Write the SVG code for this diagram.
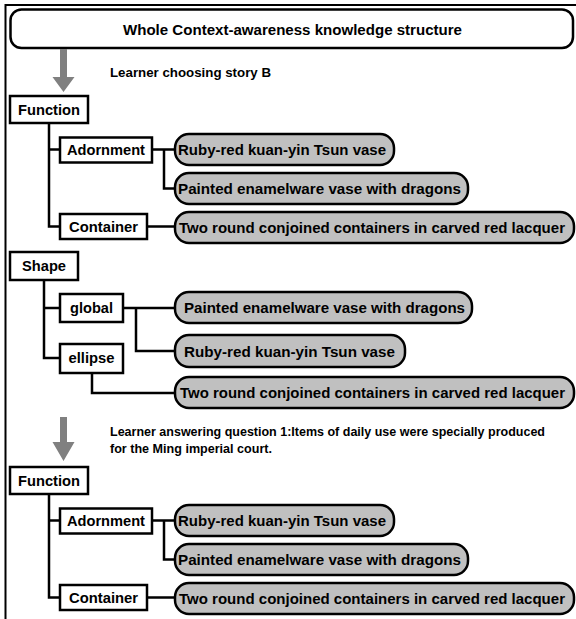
<svg xmlns="http://www.w3.org/2000/svg" width="576" height="619" viewBox="0 0 576 619">
<style>
  text { font-family: "Liberation Sans", Arial, sans-serif; font-weight: bold; fill: #000; }
  .box { fill: #fff; stroke: #000; stroke-width: 2.5; }
  .pill { fill: #c0c0c0; stroke: #000; stroke-width: 2.5; }
  .bt { font-size: 14.6px; text-anchor: middle; }
  .pt { font-size: 15px; }
  .lt { font-size: 13px; }
  .conn { fill: none; stroke: #000; stroke-width: 2.5; }
  .garrow { fill: #808080; }
</style>
<rect width="576" height="619" fill="#fff"/>
<path d="M5.5,619 V5 H576" fill="none" stroke="#000" stroke-width="2"/>

<g id="title">
  <rect x="10.5" y="9.5" width="562.5" height="38.5" rx="11" class="box"/>
  <text x="292.5" y="34.5" font-size="15" text-anchor="middle" textLength="339" lengthAdjust="spacingAndGlyphs">Whole Context-awareness knowledge structure</text>
</g>

<g id="connectors">
  <path class="garrow" d="M60,49 H67 V77 H74.5 L63.5,92 L52.5,77 H60 Z"/>
  <path class="garrow" d="M60,417 H67 V442 H74.5 L63.5,461 L52.5,442 H60 Z"/>
  <path class="conn" d="M49,123 V226.5 H60 M49,149.5 H60"/>
  <path class="conn" d="M152,149.5 H175 M164,149.5 V188.5 H175 M147,226.5 H175"/>
  <path class="conn" d="M44,280 V358 H60 M44,308 H60"/>
  <path class="conn" d="M123,308 H175 M136,308 V351 H175 M92,373 V393 H175"/>
  <path class="conn" d="M49,494 V597.5 H60 M49,520.5 H60"/>
  <path class="conn" d="M152,520.5 H175 M164,520.5 V559.5 H175 M147,597.5 H175"/>
</g>

<g id="label-story">
  <text class="lt" x="110" y="77" textLength="161" lengthAdjust="spacingAndGlyphs">Learner choosing story B</text>
</g>
<g id="label-question">
  <text class="lt" x="110" y="436" textLength="435" lengthAdjust="spacingAndGlyphs">Learner answering question 1:Items of daily use were specially produced</text>
  <text class="lt" x="110" y="453" textLength="162" lengthAdjust="spacingAndGlyphs">for the Ming imperial court.</text>
</g>

<!-- Section 1 -->
<g id="function1">
  <rect x="10" y="96" width="78" height="27" class="box"/>
  <text class="bt" x="49" y="114.5" textLength="62" lengthAdjust="spacingAndGlyphs">Function</text>
</g>
<g id="adornment1">
  <rect x="60" y="137.5" width="92" height="25" class="box"/>
  <text class="bt" x="106" y="155" textLength="78" lengthAdjust="spacingAndGlyphs">Adornment</text>
</g>
<g id="container1">
  <rect x="60" y="214" width="87" height="25" class="box"/>
  <text class="bt" x="103.5" y="231.5" textLength="69" lengthAdjust="spacingAndGlyphs">Container</text>
</g>
<g id="ruby1">
  <rect x="175" y="134" width="219" height="31" rx="14" class="pill"/>
  <text class="pt" x="178" y="155" textLength="208" lengthAdjust="spacingAndGlyphs">Ruby-red kuan-yin Tsun vase</text>
</g>
<g id="painted1">
  <rect x="175" y="173" width="293" height="31" rx="14" class="pill"/>
  <text class="pt" x="178" y="194" textLength="283" lengthAdjust="spacingAndGlyphs">Painted enamelware vase with dragons</text>
</g>
<g id="two1">
  <rect x="175" y="212" width="399" height="31" rx="14" class="pill"/>
  <text class="pt" x="179" y="233" textLength="386" lengthAdjust="spacingAndGlyphs">Two round conjoined containers in carved red lacquer</text>
</g>

<!-- Section 2 -->
<g id="shape">
  <rect x="10" y="252" width="68" height="28" class="box"/>
  <text class="bt" x="44" y="271" textLength="44" lengthAdjust="spacingAndGlyphs">Shape</text>
</g>
<g id="global">
  <rect x="60" y="294" width="63" height="28" class="box"/>
  <text class="bt" x="91.5" y="312.5" textLength="43" lengthAdjust="spacingAndGlyphs">global</text>
</g>
<g id="ellipse">
  <rect x="60" y="344" width="63" height="29" class="box"/>
  <text class="bt" x="91.5" y="363" textLength="46" lengthAdjust="spacingAndGlyphs">ellipse</text>
</g>
<g id="painted2">
  <rect x="175" y="292" width="297" height="31" rx="14" class="pill"/>
  <text class="pt" x="184" y="313" textLength="281" lengthAdjust="spacingAndGlyphs">Painted enamelware vase with dragons</text>
</g>
<g id="ruby2">
  <rect x="175" y="335" width="230" height="32" rx="14" class="pill"/>
  <text class="pt" x="184" y="356.5" textLength="211" lengthAdjust="spacingAndGlyphs">Ruby-red kuan-yin Tsun vase</text>
</g>
<g id="two2">
  <rect x="175" y="377" width="399" height="31" rx="14" class="pill"/>
  <text class="pt" x="180" y="398" textLength="385" lengthAdjust="spacingAndGlyphs">Two round conjoined containers in carved red lacquer</text>
</g>

<!-- Section 3 -->
<g id="function2">
  <rect x="10" y="467" width="78" height="27" class="box"/>
  <text class="bt" x="49" y="485.5" textLength="62" lengthAdjust="spacingAndGlyphs">Function</text>
</g>
<g id="adornment2">
  <rect x="60" y="508.5" width="92" height="25" class="box"/>
  <text class="bt" x="106" y="526" textLength="78" lengthAdjust="spacingAndGlyphs">Adornment</text>
</g>
<g id="container2">
  <rect x="60" y="585" width="87" height="25" class="box"/>
  <text class="bt" x="103.5" y="602.5" textLength="69" lengthAdjust="spacingAndGlyphs">Container</text>
</g>
<g id="ruby3">
  <rect x="175" y="505" width="219" height="31" rx="14" class="pill"/>
  <text class="pt" x="178" y="526" textLength="208" lengthAdjust="spacingAndGlyphs">Ruby-red kuan-yin Tsun vase</text>
</g>
<g id="painted3">
  <rect x="175" y="544" width="293" height="31" rx="14" class="pill"/>
  <text class="pt" x="178" y="565" textLength="283" lengthAdjust="spacingAndGlyphs">Painted enamelware vase with dragons</text>
</g>
<g id="two3">
  <rect x="175" y="583" width="399" height="31" rx="14" class="pill"/>
  <text class="pt" x="179" y="604" textLength="386" lengthAdjust="spacingAndGlyphs">Two round conjoined containers in carved red lacquer</text>
</g>
</svg>
